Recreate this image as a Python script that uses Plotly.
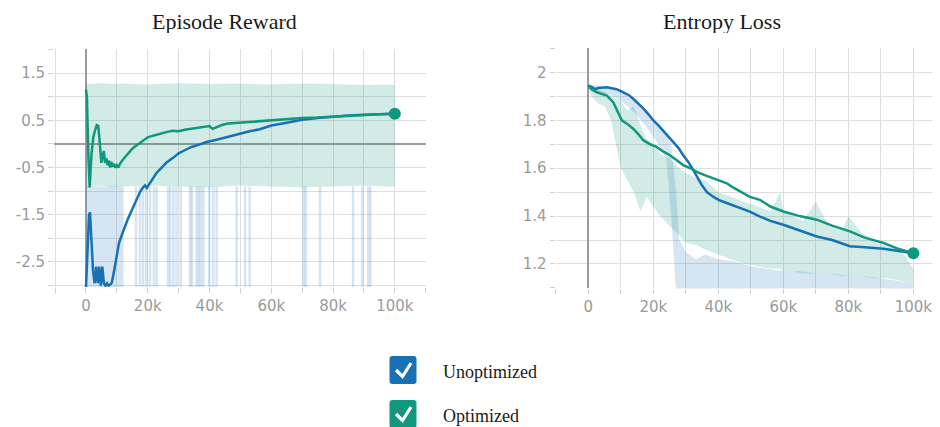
import plotly.graph_objects as go

# page body has an 8px margin: figure is placed at (8, 8) in the window
OX, OY = 8, 8
W, H = 940 - OX, 427 - OY
BLUE = "#1671b5"
TEAL = "#12977f"
TEAL_RAW = "rgba(18,151,127,0.19)"
BLUE_RAW = "rgba(22,113,181,0.18)"

# ---------------- Episode Reward ----------------
er_unopt_x = [0, 500, 1000, 1300, 1800, 2300, 2800, 3300, 3800, 4300, 4800, 5300, 5800, 6300,
              6800, 7300, 7800, 8300, 8800, 9400, 10000, 10700, 11500, 12500, 13500, 14500,
              15500, 16500, 17500, 18500, 19100, 19700, 20500, 21800, 23000, 24500, 26000,
              28300, 30000, 31500, 34000, 36900, 39000, 42300, 44000, 46600, 50000, 53000,
              56300, 60000, 65000, 70000, 75000, 80000, 85000, 90000, 95000, 100000]
er_unopt_y = [-3.05, -2.4, -1.5, -1.45, -2.2, -2.7, -2.95, -2.6, -2.95, -2.6, -3.0, -2.6, -2.95,
              -3.0, -2.95, -3.0, -2.98, -2.95, -2.8, -2.55, -2.3, -2.1, -1.95, -1.75, -1.6, -1.45,
              -1.3, -1.15, -1.02, -0.92, -0.88, -0.93, -0.85, -0.71, -0.6, -0.5, -0.4, -0.29,
              -0.2, -0.15, -0.07, -0.01, 0.04, 0.09, 0.12, 0.16, 0.22, 0.27, 0.31, 0.39, 0.45,
              0.51, 0.55, 0.58, 0.60, 0.62, 0.63, 0.64]

er_opt_x = [0, 300, 800, 1200, 1800, 2400, 3000, 3500, 4000, 4500, 5000, 5400, 5800, 6200, 6600,
            7000, 7400, 7800, 8200, 8600, 9000, 9500, 10000, 10500, 11000, 12000, 13000, 14000,
            15000, 16000, 17000, 18000, 19000, 20000, 22000, 24000, 26000, 28000, 30000, 32000,
            34000, 36000, 38000, 40000, 41000, 42000, 44000, 46000, 48000, 50000, 55000, 60000,
            65000, 70000, 75000, 80000, 85000, 90000, 95000, 100000]
er_opt_y = [1.15, 1.0, -0.3, -0.92, -0.2, 0.15, 0.3, 0.4, 0.38, -0.1, -0.4, -0.25, -0.15, -0.4,
            -0.3, -0.45, -0.35, -0.5, -0.38, -0.48, -0.42, -0.5, -0.45, -0.5, -0.42, -0.33, -0.25,
            -0.17, -0.1, -0.05, 0.0, 0.06, 0.1, 0.14, 0.18, 0.22, 0.25, 0.28, 0.27, 0.30, 0.32,
            0.34, 0.36, 0.38, 0.32, 0.35, 0.40, 0.43, 0.44, 0.46, 0.48, 0.51, 0.53, 0.55, 0.56,
            0.58, 0.60, 0.62, 0.63, 0.64]

# raw (unsmoothed) envelopes
er_opt_raw_x = [0, 2000, 5000, 8000, 12000, 20000, 30000, 40000, 50000, 60000, 70000, 80000,
                90000, 97000, 100000]
er_opt_raw_hi = [1.28, 1.27, 1.29, 1.27, 1.28, 1.26, 1.29, 1.27, 1.28, 1.26, 1.28, 1.27, 1.25,
                 1.26, 1.25]
er_opt_raw_lo = [-0.95, -0.9, -0.88, -0.92, -0.9, -0.88, -0.9, -0.92, -0.88, -0.9, -0.92, -0.9,
                 -0.88, -0.9, -0.9]
er_unopt_raw_x = [0, 4000, 8000, 12200]
er_unopt_raw_hi = [-0.9, -0.9, -0.9, -0.9]
er_unopt_raw_lo = [-3.1, -3.1, -3.1, -3.1]
er_unopt_spikes = [16200, 17500, 18500, 19500, 20700, 22000, 22900, 26600, 27300, 28300, 29300,
                   30700, 33700, 34300, 35800, 36500, 37200, 38000, 39900, 41200, 42300, 48800,
                   51500, 53000, 70500, 71200, 75800, 86500, 89500, 91400, 92100]
spike_top, spike_bottom = -0.9, -3.1

# ---------------- Entropy Loss ----------------
el_unopt_x = [0, 1000, 2000, 3000, 5700, 8700, 10800, 12500, 13800, 15500, 16900, 18500, 20000,
              21500, 23000, 24500, 26200, 27700, 29200, 30800, 32300, 33600, 34900, 36500, 38500,
              40500, 42600, 44500, 46700, 49700, 52800, 56000, 60000, 65000, 70300, 75000, 80500,
              85000, 90800, 95000, 100000]
el_unopt_y = [1.945, 1.94, 1.93, 1.935, 1.938, 1.93, 1.917, 1.905, 1.89, 1.87, 1.85, 1.825, 1.80,
              1.78, 1.758, 1.735, 1.71, 1.685, 1.654, 1.625, 1.592, 1.56, 1.53, 1.50, 1.48, 1.465,
              1.454, 1.445, 1.433, 1.419, 1.398, 1.38, 1.364, 1.34, 1.315, 1.30, 1.274, 1.27,
              1.264, 1.255, 1.245]

el_opt_x = [0, 1000, 2600, 4000, 5700, 7700, 9000, 10300, 12000, 13800, 15500, 16900, 19000,
            21000, 23000, 25100, 27000, 29200, 31300, 33400, 36000, 38500, 40500, 42600, 44500,
            46700, 49700, 52800, 56000, 60000, 65000, 70300, 75000, 80500, 85000, 90800, 95000,
            100000]
el_opt_y = [1.945, 1.93, 1.917, 1.91, 1.903, 1.875, 1.84, 1.80, 1.785, 1.765, 1.74, 1.717, 1.70,
            1.689, 1.67, 1.654, 1.635, 1.613, 1.60, 1.585, 1.57, 1.557, 1.547, 1.537, 1.52,
            1.502, 1.48, 1.468, 1.44, 1.419, 1.40, 1.385, 1.36, 1.336, 1.31, 1.288, 1.265, 1.245]

el_opt_raw_x = [0, 1000, 3000, 5000, 7000, 8500, 10000, 12000, 14000, 16000, 18000, 20000, 22000,
                25000, 28000, 30000, 33000, 36000, 40000, 44000, 48000, 52000, 56000, 59000,
                60000, 63000, 66000, 70000, 74000, 78000, 80000, 84000, 88000, 92000, 96000,
                100000]
el_opt_raw_hi = [1.95, 1.94, 1.93, 1.92, 1.90, 1.89, 1.88, 1.84, 1.86, 1.78, 1.72, 1.70, 1.66,
                 1.64, 1.60, 1.58, 1.56, 1.55, 1.50, 1.48, 1.46, 1.44, 1.42, 1.50, 1.42, 1.40,
                 1.38, 1.46, 1.36, 1.34, 1.40, 1.33, 1.30, 1.28, 1.26, 1.18]
el_opt_raw_lo = [1.93, 1.90, 1.87, 1.86, 1.80, 1.70, 1.60, 1.55, 1.50, 1.42, 1.48, 1.44, 1.40,
                 1.36, 1.32, 1.29, 1.28, 1.26, 1.24, 1.22, 1.20, 1.19, 1.18, 1.18, 1.17, 1.17,
                 1.16, 1.16, 1.16, 1.15, 1.15, 1.15, 1.14, 1.14, 1.13, 1.12]

el_unopt_raw_x = [0, 3000, 6000, 9000, 12000, 15000, 18000, 21000, 24000, 25500, 27000, 28000,
                  30000, 33000, 36000, 40000, 45000, 50000, 55000, 60000, 65000, 70000, 75000,
                  80000, 85000, 90000, 95000, 100000]
el_unopt_raw_hi = [1.95, 1.945, 1.94, 1.93, 1.91, 1.88, 1.84, 1.79, 1.74, 1.70, 1.50, 1.30, 1.25,
                   1.22, 1.24, 1.22, 1.21, 1.19, 1.18, 1.17, 1.17, 1.16, 1.16, 1.15, 1.15, 1.14,
                   1.13, 1.12]
el_unopt_raw_lo = [1.93, 1.92, 1.91, 1.89, 1.86, 1.82, 1.77, 1.71, 1.64, 1.40, 1.08, 1.08, 1.08,
                   1.08, 1.08, 1.08, 1.08, 1.08, 1.08, 1.08, 1.08, 1.08, 1.08, 1.08, 1.08, 1.08,
                   1.08, 1.08]

# tick labels
x_tickvals = [-10000, 0, 10000, 20000, 30000, 40000, 50000, 60000, 70000, 80000, 90000, 100000,
              110000]
x_ticktext = ["", "0", "", "20k", "", "40k", "", "60k", "", "80k", "", "100k", ""]
er_y_tickvals = [-3.0, -2.5, -2.0, -1.5, -1.0, -0.5, 0.0, 0.5, 1.0, 1.5, 2.0]
er_y_ticktext = ["", "-2.5", "", "-1.5", "", "-0.5", "", "0.5", "", "1.5", ""]
el_y_tickvals = [1.1, 1.2, 1.3, 1.4, 1.5, 1.6, 1.7, 1.8, 1.9, 2.0, 2.1]
el_y_ticktext = ["", "1.2", "", "1.4", "", "1.6", "", "1.8", "", "2", ""]

legend_labels = ["Unoptimized", "Optimized"]
legend_colors = [BLUE, TEAL]


def fx(x):
    return (x - OX) / W


def fy(y):
    return 1 - (y - OY) / H


def band(x, hi, lo):
    return list(x) + list(x)[::-1], list(hi) + list(lo)[::-1]


fig = go.Figure()

# --- Episode reward raw
bx, by = band(er_unopt_raw_x, er_unopt_raw_hi, er_unopt_raw_lo)
fig.add_trace(go.Scatter(x=bx, y=by, fill="toself", fillcolor=BLUE_RAW, mode="none",
                         hoverinfo="skip", xaxis="x", yaxis="y"))
bx, by = band(er_opt_raw_x, er_opt_raw_hi, er_opt_raw_lo)
fig.add_trace(go.Scatter(x=bx, y=by, fill="toself", fillcolor=TEAL_RAW, mode="none",
                         hoverinfo="skip", xaxis="x", yaxis="y"))
sx, sy = [], []
for v in er_unopt_spikes:
    sx += [v, v, None]
    sy += [spike_top, spike_bottom, None]
fig.add_trace(go.Scatter(x=sx, y=sy, mode="lines", line=dict(color=BLUE_RAW, width=2.5),
                         hoverinfo="skip", xaxis="x", yaxis="y"))
fig.add_trace(go.Scatter(x=er_unopt_x, y=er_unopt_y, mode="lines",
                         line=dict(color=BLUE, width=2.5), xaxis="x", yaxis="y"))
fig.add_trace(go.Scatter(x=er_opt_x, y=er_opt_y, mode="lines",
                         line=dict(color=TEAL, width=2.5), xaxis="x", yaxis="y"))
fig.add_trace(go.Scatter(x=[er_opt_x[-1]], y=[er_opt_y[-1]], mode="markers",
                         marker=dict(color=TEAL, size=12), xaxis="x", yaxis="y"))

# --- Entropy loss raw
bx, by = band(el_unopt_raw_x, el_unopt_raw_hi, el_unopt_raw_lo)
fig.add_trace(go.Scatter(x=bx, y=by, fill="toself", fillcolor=BLUE_RAW, mode="none",
                         hoverinfo="skip", xaxis="x2", yaxis="y2"))
bx, by = band(el_opt_raw_x, el_opt_raw_hi, el_opt_raw_lo)
fig.add_trace(go.Scatter(x=bx, y=by, fill="toself", fillcolor=TEAL_RAW, mode="none",
                         hoverinfo="skip", xaxis="x2", yaxis="y2"))
fig.add_trace(go.Scatter(x=el_unopt_x, y=el_unopt_y, mode="lines",
                         line=dict(color=BLUE, width=2.5), xaxis="x2", yaxis="y2"))
fig.add_trace(go.Scatter(x=el_opt_x, y=el_opt_y, mode="lines",
                         line=dict(color=TEAL, width=2.5), xaxis="x2", yaxis="y2"))
fig.add_trace(go.Scatter(x=[el_opt_x[-1]], y=[el_opt_y[-1]], mode="markers",
                         marker=dict(color=TEAL, size=12), xaxis="x2", yaxis="y2"))

tickfont = dict(family="DejaVu Sans", size=15, color="#9a9a9a")
GRID = "#dedede"
ZERO = "#9c9c9c"
common_x = dict(tickmode="array", tickvals=x_tickvals, ticktext=x_ticktext, showgrid=True,
                gridcolor=GRID, gridwidth=1, zeroline=True, zerolinecolor=ZERO,
                zerolinewidth=2, ticks="outside", ticklen=5, tickcolor="#d0d0d0",
                tickfont=tickfont, showline=False, fixedrange=True)
common_y = dict(tickmode="array", showgrid=True, gridcolor=GRID, gridwidth=1, ticks="outside",
                ticklen=5, tickcolor="#d0d0d0", tickfont=tickfont, showline=False,
                fixedrange=True)

fig.update_layout(
    width=W, height=H, margin=dict(l=0, r=0, t=0, b=0),
    paper_bgcolor="white", plot_bgcolor="white", showlegend=False,
    xaxis=dict(domain=[fx(54), fx(426)], range=[-10350, 110100], anchor="y", **common_x),
    yaxis=dict(domain=[fy(287), fy(49)], range=[-3.03, 2.01], anchor="x",
               tickvals=er_y_tickvals, ticktext=er_y_ticktext, zeroline=True,
               zerolinecolor=ZERO, zerolinewidth=2, **common_y),
    xaxis2=dict(domain=[fx(555.5), 1.0], range=[-10100, 108200], anchor="y2", **common_x),
    yaxis2=dict(domain=[fy(288.4), fy(48)], range=[1.098, 2.102], anchor="x2",
                tickvals=el_y_tickvals, ticktext=el_y_ticktext, zeroline=False, **common_y),
)

title_font = dict(family="Liberation Serif", size=22, color="#1a1a1a")
for ttl, cx in [("Episode Reward", 224), ("Entropy Loss", 722)]:
    fig.add_annotation(text=ttl, x=fx(cx), y=1.0, xref="paper", yref="paper",
                       showarrow=False, xanchor="center", yanchor="top", borderpad=0,
                       height=24, valign="middle", font=title_font)


def pt(x, y):
    return f"{fx(x)},{fy(y)}"


def rounded_rect(x0, y0, x1, y1, r):
    return (f"M {pt(x0 + r, y0)} L {pt(x1 - r, y0)} Q {pt(x1, y0)} {pt(x1, y0 + r)} "
            f"L {pt(x1, y1 - r)} Q {pt(x1, y1)} {pt(x1 - r, y1)} "
            f"L {pt(x0 + r, y1)} Q {pt(x0, y1)} {pt(x0, y1 - r)} "
            f"L {pt(x0, y0 + r)} Q {pt(x0, y0)} {pt(x0 + r, y0)} Z")


box_tops = [356, 400]
for lab, col, top in zip(legend_labels, legend_colors, box_tops):
    fig.add_shape(type="path", path=rounded_rect(389.5, top, 416.5, top + 28, 3),
                  xref="paper", yref="paper", fillcolor=col, line=dict(width=0))
    fig.add_shape(type="path",
                  path=f"M {pt(396, top + 14)} L {pt(402.5, top + 20.5)} L {pt(411, top + 7)}",
                  xref="paper", yref="paper", line=dict(color="white", width=3.2))
    fig.add_annotation(text=lab, x=fx(441), y=fy(top + 16), xref="paper", yref="paper",
                       showarrow=False, xanchor="left", yanchor="middle",
                       font=dict(family="Liberation Serif", size=18, color="#1a1a1a"))

fig.write_html("out.html")
